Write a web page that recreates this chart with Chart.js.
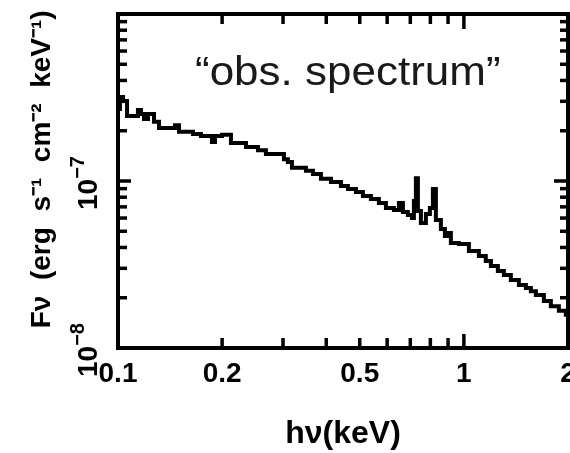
<!DOCTYPE html>
<html><head><meta charset="utf-8">
<script src="https://cdn.jsdelivr.net/npm/chart.js@4.4.1/dist/chart.umd.min.js"></script>
<style>html,body{margin:0;padding:0;background:#fff;}canvas{display:block;}</style>
</head><body>
<canvas id="c" width="570" height="453"></canvas>
<script>
// photon energy (keV), start of each histogram bin
const energyKeV = [0.1000, 0.1013, 0.1034, 0.1062, 0.1142, 0.1165, 0.1189, 0.1221, 0.1271, 0.1314,
  0.1461, 0.1501, 0.1647, 0.1737, 0.1869, 0.1907, 0.1998, 0.2121, 0.2344, 0.2539,
  0.2677, 0.3018, 0.3099, 0.3183, 0.3494, 0.3661, 0.3861, 0.4127, 0.4411, 0.4621,
  0.4874, 0.5106, 0.5385, 0.5679, 0.5951, 0.6276, 0.6488, 0.6664, 0.6889, 0.7074,
  0.7169, 0.7265, 0.7363, 0.7511, 0.7766, 0.7975, 0.8136, 0.8300, 0.8580, 0.8812,
  0.8990, 0.9171, 0.9672, 1.034, 1.105, 1.157, 1.197, 1.254, 1.305, 1.367,
  1.442, 1.511, 1.562, 1.615, 1.703, 1.784, 1.882, 1.971, 2.0];
// observed flux F_nu (erg s^-1 cm^-2 keV^-1)
const fluxValues = [2.70e-7, 3.18e-7, 3.01e-7, 2.45e-7, 2.66e-7, 2.52e-7, 2.35e-7, 2.52e-7, 2.26e-7, 2.08e-7,
  2.16e-7, 1.97e-7, 1.91e-7, 1.86e-7, 1.71e-7, 1.86e-7, 1.89e-7, 1.69e-7, 1.60e-7, 1.53e-7,
  1.45e-7, 1.35e-7, 1.30e-7, 1.20e-7, 1.15e-7, 1.10e-7, 1.03e-7, 9.86e-8, 9.33e-8, 8.96e-8,
  8.59e-8, 8.13e-8, 7.80e-8, 7.38e-8, 6.89e-8, 6.70e-8, 7.38e-8, 6.52e-8, 6.26e-8, 6.00e-8,
  7.59e-8, 1.04e-7, 6.61e-8, 5.60e-8, 6.34e-8, 6.89e-8, 8.96e-8, 5.84e-8, 5.16e-8, 4.69e-8,
  4.88e-8, 4.25e-8, 4.20e-8, 3.81e-8, 3.56e-8, 3.32e-8, 3.10e-8, 2.89e-8, 2.74e-8, 2.55e-8,
  2.38e-8, 2.29e-8, 2.19e-8, 2.08e-8, 1.91e-8, 1.78e-8, 1.67e-8, 1.58e-8, 1.58e-8];

const xTickValues = [0.1, 0.2, 0.5, 1, 2];
const xTickLabels = ['0.1', '0.2', '0.5', '1', '2'];
const xMinorTicks = [0.2, 0.3, 0.4, 0.5, 0.6, 0.7, 0.8, 0.9];
const xMajorTicks = [1];
const yTickValues = [1e-8, 1e-7];
const yTickBase = ['10', '10'];
const yTickExp = ['\u22128', '\u22127'];
const yMinorTicks = [2e-8, 3e-8, 4e-8, 5e-8, 6e-8, 7e-8, 8e-8, 9e-8, 2e-7, 3e-7, 4e-7, 5e-7, 6e-7, 7e-7, 8e-7, 9e-7];
const yMajorTicks = [1e-7];
const xTitle = 'h\u03BD(keV)';
const yTitle = '   F\u03BD  (erg  s\u207B\u00B9  cm\u207B\u00B2  keV\u207B\u00B9)';
const annotationText = '\u201Cobs. spectrum\u201D';

const FONT = '"Liberation Sans", Arial, sans-serif';
Chart.defaults.color = '#000';

const framePlugin = {
  id: 'frame',
  afterDraw(chart) {
    const ctx = chart.ctx;
    const a = chart.chartArea;
    const xs = chart.scales.x, ys = chart.scales.y;
    ctx.save();
    ctx.strokeStyle = '#000';
    ctx.lineWidth = 4;
    ctx.lineCap = 'butt';
    ctx.strokeRect(a.left, a.top, a.right - a.left, a.bottom - a.top);
    ctx.lineWidth = 3.5;
    const tick = (x1, y1, x2, y2) => { ctx.beginPath(); ctx.moveTo(x1, y1); ctx.lineTo(x2, y2); ctx.stroke(); };
    xMinorTicks.forEach(v => { const p = xs.getPixelForValue(v); tick(p, a.bottom, p, a.bottom - 10); tick(p, a.top, p, a.top + 10); });
    xMajorTicks.forEach(v => { const p = xs.getPixelForValue(v); tick(p, a.bottom, p, a.bottom - 14); tick(p, a.top, p, a.top + 15); });
    yMinorTicks.forEach(v => { const p = ys.getPixelForValue(v); tick(a.left, p, a.left + 9, p); tick(a.right, p, a.right - 8, p); });
    yMajorTicks.forEach(v => { const p = ys.getPixelForValue(v); tick(a.left, p, a.left + 13, p); tick(a.right, p, a.right - 14, p); });

    // rotated y tick labels
    ctx.fillStyle = '#000';
    yTickValues.forEach((v, i) => {
      const p = ys.getPixelForValue(v);
      ctx.save();
      ctx.translate(97, p);
      ctx.rotate(-Math.PI / 2);
      ctx.textAlign = 'left';
      ctx.textBaseline = 'alphabetic';
      ctx.font = 'bold 28px ' + FONT;
      const wb = ctx.measureText(yTickBase[i]).width;
      ctx.font = 'bold 20px ' + FONT;
      const we = ctx.measureText(yTickExp[i]).width;
      const start = -(wb + we) / 2 - 2;
      ctx.font = 'bold 28px ' + FONT;
      ctx.fillText(yTickBase[i], start, 0);
      ctx.font = 'bold 20px ' + FONT;
      ctx.fillText(yTickExp[i], start + wb, -13);
      ctx.restore();
    });

    // annotation
    ctx.save();
    ctx.fillStyle = '#1a1a1a';
    ctx.font = '40px ' + FONT;
    ctx.textAlign = 'left';
    ctx.textBaseline = 'alphabetic';
    ctx.translate(195, 85);
    ctx.scale(1.1, 1);
    ctx.fillText(annotationText, 0, 0);
    ctx.restore();
    ctx.restore();
  }
};

new Chart(document.getElementById('c'), {
  type: 'line',
  data: {
    datasets: [{
      data: energyKeV.map((e, i) => ({ x: e, y: fluxValues[i] })),
      borderColor: '#000',
      borderWidth: 4,
      stepped: 'before',
      pointRadius: 0,
      fill: false,
      borderJoinStyle: 'miter'
    }]
  },
  options: {
    responsive: false,
    animation: false,
    devicePixelRatio: 1,
    layout: { padding: { top: 14, right: 2, bottom: 0, left: 0 } },
    plugins: { legend: { display: false }, tooltip: { enabled: false } },
    scales: {
      x: {
        type: 'logarithmic',
        min: 0.1, max: 2,
        grid: { display: false, drawTicks: false },
        border: { display: false },
        afterBuildTicks: s => { s.ticks = xTickValues.map(v => ({ value: v })); },
        afterFit: s => { s.height = 105; s.paddingLeft = 0; s.paddingRight = 0; },
        ticks: {
          autoSkip: false, maxRotation: 0, minRotation: 0, padding: 9,
          font: { family: FONT, size: 28, weight: 'bold' },
          callback: (v, i) => xTickLabels[i]
        },
        title: { display: true, text: xTitle, padding: 0, font: { family: FONT, size: 32, weight: 'bold' } }
      },
      y: {
        type: 'logarithmic',
        min: 1e-8, max: 1e-6,
        grid: { display: false, drawTicks: false },
        border: { display: false },
        afterBuildTicks: s => { s.ticks = [1e-8, 1e-7, 1e-6].map(v => ({ value: v })); },
        afterFit: s => { s.width = 118; s.paddingTop = 0; s.paddingBottom = 0; },
        ticks: { display: false },
        title: { display: true, text: yTitle, padding: { top: 25, bottom: 0 }, font: { family: FONT, size: 28, weight: 'bold' } }
      }
    }
  },
  plugins: [framePlugin]
});
</script>
</body></html>
